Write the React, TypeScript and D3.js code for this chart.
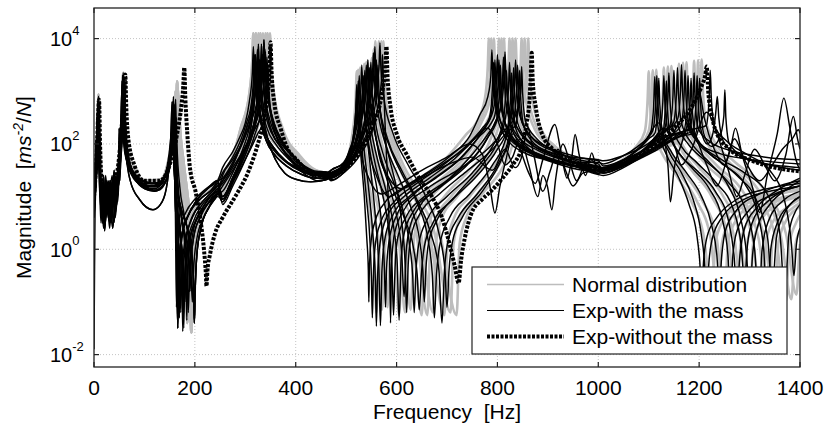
import React from 'react';
import * as d3 from 'd3';

// every point: [frequency in Hz, log10 of magnitude in m s^-2 / N]
type Pt = [number, number];

const xTicks = [0, 200, 400, 600, 800, 1000, 1200, 1400];
const yTickExps = [-2, 0, 2, 4];
const legendLabels = ['Normal distribution', 'Exp-with the mass', 'Exp-without the mass'];

// ---------- Exp-with the mass: 0-245 Hz pieces ----------
const blackLow1: Pt[] = [[0,1.0],[3,1.5],[6,2.1],[8,2.75],[10,1.9],[13,1.1],[16,0.7],[19,1.2],[23,0.6],[27,1.0],[31,0.5],[36,1.1],[41,0.8],[45,1.3],[49,1.6],[53,2.2],[55.5,2.7],[57,3.3],[58.5,2.6],[61,2.1],[66,1.75],[78,1.45],[95,1.25],[115,1.2],[135,1.3],[147,1.6],[153,2.0],[156,2.4],[157,2.7],[158,2.2],[161,1.0],[164,0.0],[166,-1.5],[168,-0.4],[173,0.2],[185,0.6],[205,0.95],[225,1.15],[245,1.3]];
const blackLow2: Pt[] = [[0,-1.9],[1,-0.5],[2,0.6],[4,1.3],[7,1.9],[9,2.5],[11,1.7],[14,0.9],[18,1.3],[21,0.4],[25,0.9],[30,1.3],[34,0.6],[38,1.0],[43,1.4],[47,0.9],[50,1.5],[54,2.3],[56.5,2.8],[58,3.35],[59.5,2.7],[62,2.1],[68,1.7],[80,1.4],[100,1.2],[120,1.15],[138,1.3],[148,1.65],[154,2.1],[157,2.3],[158,2.5],[159,2.0],[163,1.1],[168,0.2],[171,-0.6],[172,-1.2],[174,-0.5],[178,0.0],[190,0.5],[210,0.85],[230,1.05],[245,1.2]];
const blackLow3: Pt[] = [[0,0.8],[3,1.2],[6,1.7],[9,2.0],[10,2.3],[11,1.8],[14,1.0],[17,0.5],[20,0.9],[24,1.3],[28,0.7],[32,1.0],[37,0.4],[42,0.9],[46,1.2],[49,1.6],[50,2.3],[51,1.3],[54,2.0],[57,2.6],[59,3.1],[61,2.4],[64,1.8],[72,1.3],[90,0.95],[117,0.75],[135,0.9],[145,1.25],[150,1.7],[153,2.3],[155,2.8],[156.5,2.2],[159,1.5],[165,0.8],[172,0.2],[178,-0.4],[180,-1.0],[182,-0.4],[188,0.1],[200,0.5],[220,0.8],[245,1.05]];
const blackLow4: Pt[] = [[0,1.2],[3,1.6],[6,2.2],[8,2.6],[10,1.8],[12,1.2],[15,0.8],[19,1.4],[22,0.9],[26,1.2],[30,0.7],[34,1.2],[39,0.5],[44,1.0],[48,1.4],[52,1.9],[54.5,2.5],[56,3.2],[57.5,2.5],[60,2.0],[66,1.65],[80,1.35],[100,1.15],[120,1.1],[140,1.25],[150,1.6],[156,2.1],[159,2.4],[160,2.6],[161.5,2.1],[165,1.3],[172,0.7],[180,0.3],[186,0.0],[189,-0.5],[190,-0.8],[192,-0.3],[198,0.25],[210,0.6],[228,0.9],[245,1.1]];
const blackLow5: Pt[] = [[0,0.9],[3,1.4],[6,2.3],[9,2.9],[11,2.0],[13,1.3],[16,1.0],[20,0.6],[24,1.1],[29,0.8],[33,1.3],[37,0.9],[42,1.2],[47,1.1],[51,1.6],[55,2.2],[58,2.6],[60,3.0],[62,2.4],[66,1.9],[76,1.5],[95,1.3],[115,1.25],[135,1.3],[146,1.55],[152,1.9],[155,2.2],[156,2.4],[157.5,1.9],[162,1.3],[172,0.8],[185,0.4],[195,-0.2],[198,-0.9],[199,-1.4],[200.5,-0.8],[204,-0.1],[212,0.4],[228,0.8],[245,1.05]];
const blackLow6: Pt[] = [[0,1.1],[3,1.3],[6,1.6],[9,1.8],[11,2.0],[12,1.5],[15,1.0],[18,0.7],[22,1.2],[26,0.8],[30,1.1],[35,0.7],[40,1.3],[45,0.9],[49,1.4],[52,1.9],[55,2.5],[57,3.25],[58.5,2.6],[61,2.1],[67,1.7],[80,1.45],[100,1.3],[122,1.25],[140,1.35],[150,1.7],[157,2.2],[160,2.5],[162,2.85],[163.5,2.0],[166,1.2],[170,0.5],[174,-0.3],[176,-1.56],[178,-0.3],[183,0.2],[195,0.6],[215,0.9],[235,1.1],[245,1.2]];
const blackLow7: Pt[] = [[0,0.6],[2,1.0],[5,1.5],[8,1.9],[10,2.2],[12,1.4],[15,0.6],[18,1.0],[21,0.35],[24,0.8],[28,1.2],[32,0.6],[36,1.0],[40,1.5],[44,0.8],[48,1.2],[52,1.8],[56,2.6],[58.5,3.3],[60,2.7],[63,2.0],[70,1.6],[85,1.35],[105,1.2],[125,1.2],[142,1.4],[151,1.85],[156,2.3],[158,2.5],[159,2.75],[160.5,2.1],[164,1.0],[167,0.0],[169,-1.3],[171,-0.2],[176,0.35],[190,0.7],[210,0.95],[230,1.1],[245,1.25]];
const blackLow8: Pt[] = [[0,1.3],[3,1.8],[5,2.1],[7,2.45],[9,1.7],[12,0.9],[14,0.5],[17,1.1],[20,0.8],[23,1.4],[27,0.9],[31,0.4],[35,0.9],[39,1.2],[43,0.7],[47,1.5],[51,2.0],[53,2.4],[55,3.0],[56.5,2.4],[59,2.0],[64,1.7],[75,1.4],[95,1.2],[118,1.12],[140,1.25],[150,1.6],[157,2.15],[159.5,2.45],[161,2.65],[162.5,2.0],[166,1.3],[172,0.75],[178,0.3],[182,-0.3],[184,-1.35],[186,-0.3],[191,0.2],[202,0.55],[220,0.85],[245,1.1]];
const blackLow9: Pt[] = [[0,0.7],[3,1.1],[6,1.8],[9,2.6],[10.5,1.9],[13,1.2],[16,0.8],[19,0.4],[23,1.0],[26,1.3],[30,0.9],[34,0.5],[38,0.8],[42,1.3],[46,1.0],[49,1.3],[53,2.1],[56,2.6],[57.5,3.15],[59,2.5],[62,2.0],[68,1.65],[82,1.4],[100,1.25],[125,1.25],[142,1.45],[151,1.95],[156,2.35],[158,2.55],[159.5,1.9],[161.5,0.6],[163.5,-1.1],[165.5,-0.1],[170,0.35],[182,0.7],[200,0.95],[222,1.15],[245,1.3]];
const blackLow10: Pt[] = [[0,1.0],[3,1.35],[6,1.9],[8.5,2.35],[10,1.6],[13,0.8],[16,1.2],[20,0.5],[24,1.0],[28,0.6],[32,1.1],[36,1.4],[40,0.9],[44,1.1],[48,1.4],[52,1.9],[55,2.5],[56.5,3.1],[58,2.5],[61,2.0],[67,1.6],[78,1.4],[98,1.2],[120,1.18],[142,1.3],[153,1.7],[160,2.2],[162,2.35],[163,2.5],[164.5,2.0],[170,1.2],[178,0.7],[186,0.3],[192,-0.3],[195,-1.0],[198,-0.3],[204,0.2],[215,0.55],[232,0.85],[245,1.0]];
const blackLow11: Pt[] = [[0,1.15],[3,1.5],[6,2.1],[8,2.4],[9.5,2.8],[11,2.0],[14,1.2],[18,0.9],[22,0.45],[26,1.1],[30,1.3],[34,0.8],[38,1.2],[42,0.6],[46,1.0],[50,1.4],[54,1.9],[57.5,2.6],[59.5,3.25],[61,2.6],[64,2.05],[72,1.6],[90,1.3],[112,1.2],[135,1.28],[147,1.6],[153,2.1],[156,2.5],[157.5,2.9],[159,2.2],[163,1.4],[170,0.8],[178,0.35],[184,-0.2],[187,-1.2],[190,-0.2],[196,0.3],[208,0.65],[226,0.95],[245,1.15]];
const blackLow12: Pt[] = [[0,0.85],[3,1.2],[7,1.6],[9.5,2.0],[11,2.5],[12.5,1.8],[15,1.1],[18,0.6],[21,1.0],[25,0.7],[29,1.2],[33,0.9],[37,1.3],[41,0.7],[45,1.1],[49,1.4],[53,1.7],[57,2.2],[59,2.6],[60.5,3.05],[62,2.5],[65,2.0],[72,1.55],[88,1.3],[108,1.15],[128,1.12],[143,1.3],[150,1.7],[154,2.2],[156,2.6],[157.5,2.0],[161,1.2],[167,0.6],[173,0.0],[176,-0.6],[178,-1.5],[180,-0.5],[185,0.1],[196,0.5],[215,0.85],[235,1.05],[245,1.15]];

// ---------- Exp-with the mass: 255-460 Hz pieces (third resonance) ----------
const blackMode3a: Pt[] = [[255,1.55],[275,1.85],[290,2.15],[300,2.4],[308,2.8],[314,3.35],[316,3.85],[318,3.35],[324,2.8],[335,2.3],[350,2.0],[375,1.72],[405,1.55],[435,1.45],[460,1.42]];
const blackMode3b: Pt[] = [[255,1.3],[275,1.6],[292,2.0],[304,2.35],[312,2.65],[318,3.2],[320,3.7],[322,3.2],[328,2.65],[340,2.2],[355,1.95],[380,1.68],[410,1.5],[440,1.4],[460,1.4]];
const blackMode3c: Pt[] = [[255,1.1],[275,1.45],[295,1.9],[308,2.3],[316,2.75],[322,3.3],[324,3.8],[326,3.3],[332,2.75],[343,2.3],[360,2.0],[385,1.72],[412,1.52],[440,1.42],[460,1.45]];
const blackMode3d: Pt[] = [[255,0.9],[275,1.3],[295,1.75],[310,2.15],[320,2.55],[326,3.1],[328,3.6],[330,3.1],[336,2.5],[346,2.05],[360,1.7],[378,1.45],[400,1.33],[430,1.28],[460,1.32]];
const blackMode3e: Pt[] = [[255,1.4],[275,1.7],[295,2.05],[312,2.45],[324,2.85],[330,3.4],[332,3.9],[334,3.4],[340,2.85],[352,2.35],[368,2.05],[392,1.78],[418,1.58],[442,1.48],[460,1.47]];
const blackMode3f: Pt[] = [[255,1.0],[275,1.35],[298,1.85],[315,2.3],[329,2.9],[335,3.48],[337,3.98],[339,3.45],[345,2.9],[357,2.4],[372,2.08],[395,1.78],[420,1.55],[445,1.42],[460,1.4]];
const blackMode3g: Pt[] = [[255,0.85],[275,1.2],[300,1.7],[318,2.15],[332,2.7],[338,3.25],[340,3.75],[342,3.25],[348,2.7],[360,2.2],[375,1.9],[398,1.6],[422,1.4],[445,1.3],[460,1.33]];
const blackMode3h: Pt[] = [[255,1.2],[275,1.5],[300,1.9],[320,2.3],[335,2.6],[341,3.15],[343,3.65],[345,3.15],[351,2.6],[363,2.2],[380,1.92],[402,1.68],[428,1.5],[450,1.45],[460,1.47]];
const blackMode3i: Pt[] = [[255,1.45],[275,1.75],[292,2.1],[304,2.45],[310,2.65],[316,3.2],[318,3.7],[320,3.2],[326,2.65],[338,2.15],[355,1.9],[380,1.66],[410,1.48],[440,1.4],[460,1.38]];
const blackMode3j: Pt[] = [[255,1.0],[275,1.35],[295,1.8],[308,2.15],[314,2.5],[320,3.05],[322,3.55],[324,3.05],[330,2.5],[342,2.05],[358,1.8],[382,1.58],[412,1.42],[440,1.35],[460,1.36]];
const blackMode3k: Pt[] = [[255,1.35],[275,1.65],[296,2.05],[310,2.45],[318,2.85],[324,3.4],[326,3.9],[328,3.4],[334,2.85],[346,2.35],[362,2.05],[388,1.76],[415,1.56],[442,1.46],[460,1.46]];
const blackMode3l: Pt[] = [[255,0.95],[275,1.3],[298,1.75],[315,2.2],[326,2.65],[332,3.2],[334,3.7],[336,3.2],[342,2.65],[354,2.2],[370,1.95],[393,1.68],[420,1.5],[445,1.4],[460,1.4]];
const blackMode3m: Pt[] = [[255,1.25],[275,1.55],[300,1.95],[318,2.35],[331,2.75],[337,3.3],[339,3.8],[341,3.3],[347,2.75],[359,2.3],[375,2.0],[398,1.72],[424,1.52],[448,1.44],[460,1.44]];
const blackMode3n: Pt[] = [[255,0.95],[280,1.35],[305,1.8],[325,2.2],[337,2.45],[343,3.0],[345,3.5],[347,3.0],[353,2.45],[365,2.05],[382,1.78],[405,1.55],[430,1.4],[450,1.34],[460,1.35]];

// ---------- Exp-with the mass: 470-1000 Hz pieces ----------
const blackMid1: Pt[] = [[470,1.45],[495,1.6],[507,1.9],[513,2.08],[519,2.63],[521,3.13],[523,2.6],[529,1.8],[536,1.0],[541,0.2],[544,-0.4],[545,-1.0],[546,-0.4],[550,0.2],[558,0.55],[578,0.9],[610,1.15],[660,1.45],[710,1.8],[745,2.15],[765,2.55],[781,2.9],[787,3.3],[789,3.79],[791,3.3],[797,2.75],[812,2.3],[840,2.0],[890,1.75],[945,1.6],[1000,1.52]];
const blackMid2: Pt[] = [[470,1.4],[495,1.55],[508,1.85],[518,2.25],[524,2.8],[526,3.3],[528,2.8],[534,2.05],[544,1.2],[552,0.4],[558,-0.6],[560,-1.46],[562,-0.6],[567,0.1],[580,0.6],[615,1.0],[665,1.35],[715,1.72],[755,2.1],[775,2.3],[787,2.55],[793,3.1],[795,3.6],[797,3.1],[803,2.55],[820,2.15],[855,1.88],[905,1.68],[955,1.57],[1000,1.5]];
const blackMid3: Pt[] = [[470,1.5],[495,1.65],[510,1.95],[523,2.45],[529,3.0],[531,3.5],[533,3.0],[539,2.4],[550,1.7],[562,1.1],[571,0.4],[576,-0.4],[578,-1.1],[580,-0.4],[585,0.15],[598,0.6],[635,1.05],[685,1.4],[735,1.8],[770,2.25],[792,2.65],[798,3.2],[800,3.7],[802,3.2],[808,2.65],[825,2.2],[862,1.9],[912,1.7],[962,1.58],[1000,1.55]];
const blackMid4: Pt[] = [[470,1.35],[495,1.5],[512,1.8],[526,2.3],[535,2.9],[537,3.4],[539,2.9],[545,2.3],[557,1.65],[572,1.05],[584,0.4],[591,-0.35],[594,-1.25],[597,-0.35],[602,0.2],[618,0.6],[655,1.0],[705,1.35],[750,1.8],[782,2.2],[798,2.45],[804,3.0],[806,3.5],[808,3.0],[814,2.45],[832,2.05],[870,1.8],[920,1.62],[970,1.5],[1000,1.48]];
const blackMid5: Pt[] = [[470,1.45],[495,1.6],[515,1.9],[532,2.55],[541,3.1],[543,3.6],[545,3.1],[551,2.55],[565,1.85],[585,1.2],[600,0.65],[610,-0.05],[615,-0.9],[619,-0.05],[626,0.4],[645,0.8],[690,1.2],[740,1.6],[780,2.1],[804,2.6],[810,3.15],[812,3.65],[814,3.15],[820,2.6],[840,2.15],[880,1.88],[930,1.7],[975,1.6],[1000,1.58]];
const blackMid6: Pt[] = [[470,1.4],[495,1.55],[518,1.85],[538,2.5],[547,3.05],[549,3.55],[551,3.05],[557,2.5],[572,1.85],[595,1.25],[615,0.65],[627,0.0],[632,-0.5],[635,-1.2],[638,-0.5],[644,0.1],[660,0.55],[700,1.0],[750,1.45],[790,1.95],[810,2.35],[816,2.9],[818,3.4],[820,2.9],[826,2.35],[848,2.0],[890,1.78],[940,1.62],[1000,1.5]];
const blackMid7: Pt[] = [[470,1.5],[495,1.62],[520,1.95],[543,2.65],[552,3.23],[554,3.73],[556,3.23],[562,2.68],[578,2.0],[603,1.4],[628,0.8],[646,0.15],[652,-0.4],[655,-1.0],[658,-0.4],[664,0.15],[680,0.55],[720,1.05],[770,1.6],[803,2.1],[816,2.5],[822,3.05],[824,3.55],[826,3.05],[832,2.5],[854,2.1],[895,1.85],[945,1.68],[1000,1.56]];
const blackMid8: Pt[] = [[470,1.35],[495,1.5],[522,1.85],[549,2.5],[558,3.1],[560,3.6],[562,3.1],[568,2.55],[586,1.95],[612,1.4],[642,0.85],[663,0.15],[671,-0.5],[675,-1.3],[679,-0.5],[686,0.1],[705,0.6],[745,1.05],[790,1.6],[815,2.05],[824,2.4],[830,2.95],[832,3.45],[834,2.95],[840,2.4],[862,2.05],[905,1.8],[955,1.64],[1000,1.55]];
const blackMid9: Pt[] = [[470,1.45],[495,1.58],[525,1.95],[553,2.75],[565,3.42],[567,3.92],[569,3.42],[575,2.87],[593,2.2],[623,1.6],[658,1.0],[684,0.3],[696,-0.4],[700,-1.1],[704,-0.4],[711,0.15],[730,0.6],[770,1.1],[808,1.7],[826,2.15],[832,2.45],[838,3.0],[840,3.5],[842,3.0],[848,2.45],[870,2.1],[915,1.85],[960,1.7],[1000,1.62]];
const blackMid10: Pt[] = [[470,1.3],[495,1.45],[528,1.8],[557,2.45],[570,3.2],[572,3.7],[574,3.15],[578,2.2],[583,1.1],[586,0.1],[588,-1.4],[590,-0.3],[596,0.3],[615,0.75],[660,1.15],[720,1.5],[780,1.9],[818,2.3],[834,2.5],[846,2.97],[848,3.47],[850,2.97],[856,2.42],[878,2.1],[920,1.85],[965,1.65],[1000,1.56]];
const blackMid11: Pt[] = [[470,1.38],[495,1.52],[508,1.8],[516,2.15],[522,2.7],[524,3.2],[526,2.65],[532,1.85],[540,1.0],[547,0.2],[550,-0.5],[552,-1.3],[554,-0.5],[558,0.1],[568,0.5],[595,0.9],[640,1.25],[695,1.62],[740,1.98],[770,2.3],[784,2.5],[790,3.05],[792,3.55],[794,3.05],[800,2.5],[818,2.1],[850,1.85],[900,1.7],[955,1.65],[1000,1.65]];
const blackMid12: Pt[] = [[470,1.5],[495,1.63],[512,1.9],[526,2.25],[532,2.8],[534,3.3],[536,2.8],[542,2.1],[551,1.3],[559,0.5],[565,-0.4],[568,-1.45],[571,-0.4],[576,0.15],[590,0.6],[625,1.0],[675,1.35],[725,1.72],[765,2.15],[788,2.4],[795,2.55],[801,3.1],[803,3.6],[805,3.1],[811,2.55],[830,2.12],[865,1.85],[915,1.67],[965,1.55],[1000,1.45]];
const blackMid13: Pt[] = [[470,1.42],[495,1.55],[514,1.85],[530,2.4],[538,3.0],[540,3.5],[542,3.0],[548,2.4],[561,1.75],[578,1.15],[592,0.55],[601,-0.2],[605,-1.35],[609,-0.2],[615,0.3],[632,0.7],[675,1.1],[725,1.5],[770,1.95],[797,2.45],[807,2.7],[813,3.25],[815,3.75],[817,3.25],[823,2.7],[843,2.25],[880,1.95],[930,1.78],[975,1.72],[1000,1.7]];
const blackMid14: Pt[] = [[470,1.32],[495,1.46],[517,1.78],[535,2.35],[544,2.95],[546,3.45],[548,2.95],[554,2.4],[569,1.75],[592,1.15],[615,0.6],[634,0.0],[641,-0.5],[645,-1.15],[649,-0.5],[655,0.05],[672,0.5],[712,0.95],[760,1.4],[800,1.9],[820,2.3],[826,2.85],[828,3.35],[830,2.85],[836,2.3],[858,1.95],[900,1.72],[950,1.58],[1000,1.42]];
const blackMid15: Pt[] = [[470,1.45],[495,1.57],[523,1.92],[546,2.7],[555,3.35],[557,3.85],[559,3.35],[565,2.8],[582,2.1],[610,1.5],[640,0.95],[668,0.3],[684,-0.4],[690,-1.4],[695,-0.4],[702,0.15],[722,0.6],[760,1.05],[800,1.6],[822,2.1],[828,2.55],[834,3.1],[836,3.6],[838,3.1],[844,2.55],[866,2.15],[910,1.9],[960,1.75],[1000,1.68]];
const blackMid16: Pt[] = [[470,1.36],[495,1.5],[525,1.85],[550,2.4],[561,3.0],[563,3.5],[565,3.0],[571,2.4],[585,1.75],[600,1.15],[611,0.45],[617,-0.3],[620,-1.2],[623,-0.3],[629,0.25],[645,0.65],[685,1.05],[735,1.45],[790,1.9],[822,2.25],[836,2.35],[842,2.9],[844,3.4],[846,2.9],[852,2.35],[874,2.0],[918,1.78],[962,1.6],[1000,1.44]];

// ---------- Exp-with the mass: 1010-1400 Hz pieces ----------
const blackHigh1: Pt[] = [[1010,1.5],[1045,1.65],[1072,1.85],[1092,2.05],[1104,2.23],[1110,2.78],[1112,3.28],[1114,2.78],[1120,2.23],[1135,1.8],[1160,1.35],[1180,0.85],[1195,0.3],[1201,-0.2],[1205,-0.8],[1209,-0.2],[1216,0.25],[1235,0.6],[1275,0.95],[1335,1.15],[1400,1.25]];
const blackHigh2: Pt[] = [[1010,1.55],[1050,1.7],[1080,1.9],[1100,2.1],[1112,2.2],[1118,2.75],[1120,3.25],[1122,2.75],[1128,2.2],[1145,1.85],[1175,1.45],[1205,1.0],[1225,0.45],[1235,-0.1],[1240,-0.7],[1245,-0.1],[1252,0.35],[1275,0.75],[1320,1.05],[1400,1.3]];
const blackHigh3: Pt[] = [[1010,1.45],[1050,1.6],[1085,1.85],[1110,2.1],[1122,2.25],[1128,2.8],[1130,3.3],[1132,2.8],[1138,2.25],[1155,1.9],[1185,1.55],[1220,1.15],[1245,0.6],[1257,-0.1],[1262,-0.9],[1267,-0.1],[1275,0.35],[1300,0.75],[1350,1.05],[1400,1.2]];
const blackHigh4: Pt[] = [[1010,1.5],[1050,1.62],[1090,1.9],[1118,2.15],[1132,2.3],[1138,2.85],[1140,3.35],[1142,2.85],[1148,2.3],[1165,1.95],[1195,1.65],[1235,1.25],[1268,0.75],[1283,0.1],[1290,-0.6],[1296,0.1],[1305,0.5],[1335,0.9],[1400,1.2]];
const blackHigh5: Pt[] = [[1010,1.52],[1050,1.65],[1095,1.92],[1125,2.2],[1142,2.35],[1148,2.9],[1150,3.4],[1152,2.9],[1158,2.35],[1178,2.0],[1210,1.7],[1255,1.3],[1292,0.75],[1310,0.0],[1318,-1.0],[1325,0.0],[1338,0.55],[1370,0.95],[1400,1.1]];
const blackHigh6: Pt[] = [[1010,1.55],[1050,1.68],[1100,1.95],[1135,2.25],[1157,2.46],[1163,3.01],[1165,3.51],[1167,3.01],[1173,2.46],[1195,2.05],[1230,1.75],[1275,1.4],[1315,0.9],[1336,0.2],[1345,-0.8],[1353,0.2],[1365,0.6],[1385,0.9],[1400,1.0]];
const blackHigh7: Pt[] = [[1010,1.48],[1050,1.6],[1105,1.9],[1145,2.15],[1170,2.25],[1176,2.8],[1178,3.3],[1180,2.8],[1186,2.25],[1208,1.95],[1245,1.7],[1290,1.45],[1335,1.05],[1360,0.3],[1370,-0.9],[1378,0.3],[1390,0.7],[1400,0.85]];
const blackHigh8: Pt[] = [[1010,1.5],[1050,1.62],[1110,1.92],[1155,2.2],[1182,2.3],[1188,2.85],[1190,3.35],[1192,2.85],[1198,2.3],[1220,2.05],[1260,1.88],[1310,1.78],[1360,1.72],[1400,1.7]];
const blackHigh9: Pt[] = [[1010,1.45],[1050,1.58],[1115,1.88],[1165,2.15],[1193,2.2],[1199,2.75],[1201,3.25],[1203,2.75],[1209,2.2],[1225,1.95],[1240,2.1],[1249,2.53],[1251,3.03],[1253,2.5],[1260,2.0],[1290,1.75],[1340,1.6],[1400,1.5]];
const blackHigh10: Pt[] = [[1010,1.52],[1050,1.65],[1120,1.95],[1175,2.25],[1214,2.35],[1220,2.9],[1222,3.4],[1224,2.9],[1230,2.35],[1255,2.05],[1295,1.8],[1340,1.5],[1370,0.9],[1383,0.1],[1388,-0.5],[1393,0.1],[1400,0.4]];
const blackHigh11: Pt[] = [[1010,1.62],[1045,1.75],[1078,1.95],[1098,2.12],[1108,2.25],[1114,2.8],[1116,3.3],[1118,2.8],[1124,2.25],[1140,1.85],[1165,1.45],[1188,0.95],[1204,0.3],[1211,-0.3],[1215,-1.1],[1219,-0.3],[1226,0.2],[1245,0.6],[1290,0.95],[1350,1.12],[1400,1.2]];
const blackHigh12: Pt[] = [[1010,1.45],[1050,1.58],[1088,1.82],[1115,2.05],[1127,2.15],[1133,2.7],[1135,3.2],[1137,2.7],[1143,2.15],[1162,1.8],[1195,1.5],[1232,1.1],[1258,0.55],[1269,-0.1],[1275,-0.8],[1281,-0.1],[1290,0.4],[1315,0.8],[1360,1.15],[1400,1.35]];
const blackHigh13: Pt[] = [[1010,1.68],[1050,1.78],[1098,2.0],[1130,2.25],[1149,2.4],[1155,2.95],[1157,3.45],[1159,2.95],[1165,2.4],[1186,2.0],[1220,1.65],[1258,1.2],[1282,0.6],[1294,-0.1],[1300,-0.9],[1306,-0.1],[1315,0.4],[1340,0.85],[1375,1.15],[1400,1.3]];
const blackHigh14: Pt[] = [[1010,1.4],[1050,1.55],[1105,1.88],[1142,2.15],[1164,2.35],[1170,2.9],[1172,3.4],[1174,2.9],[1180,2.35],[1202,2.0],[1240,1.82],[1290,1.72],[1345,1.66],[1400,1.62]];
const blackHigh15: Pt[] = [[1010,1.58],[1050,1.7],[1110,1.98],[1150,2.2],[1176,2.2],[1182,2.75],[1184,3.25],[1186,2.75],[1192,2.2],[1212,1.9],[1250,1.6],[1290,1.25],[1315,0.7],[1328,0.0],[1335,-1.2],[1342,0.0],[1355,0.5],[1380,0.85],[1400,1.0]];
const blackHigh16: Pt[] = [[1010,1.5],[1050,1.62],[1115,1.9],[1160,2.15],[1188,2.25],[1194,2.8],[1196,3.3],[1198,2.8],[1204,2.25],[1216,2.0],[1226,2.15],[1233,2.6],[1236,2.9],[1239,2.5],[1248,2.05],[1275,1.8],[1320,1.65],[1365,1.58],[1400,1.55]];

// ---------- Exp-with the mass: irregular measurements ----------
const wiggleMid1: Pt[] = [[470,1.42],[495,1.58],[510,1.9],[519,2.6],[521,2.9],[523,2.5],[530,1.8],[545,1.35],[570,1.05],[600,1.2],[650,1.5],[700,1.75],[745,2.0],[770,1.8],[785,1.2],[795,0.69],[805,1.2],[818,1.75],[831,2.2],[845,1.9],[862,1.45],[875,1.25],[890,1.7],[914,2.37],[925,1.9],[938,1.35],[947,1.7],[954,2.18],[962,1.8],[975,1.4],[987,1.83],[995,1.6],[1000,1.55]];
const wiggleHigh1: Pt[] = [[1010,1.5],[1050,1.7],[1090,2.0],[1120,2.4],[1138,1.6],[1143,0.9],[1150,1.5],[1165,2.0],[1185,2.6],[1200,3.0],[1210,2.5],[1230,1.9],[1250,1.6],[1262,1.9],[1272,2.3],[1285,1.8],[1305,1.2],[1320,0.7],[1335,1.4],[1355,2.2],[1368,2.87],[1380,2.3],[1392,1.7],[1400,1.5]];
const wiggleMid2: Pt[] = [[470,1.4],[495,1.55],[515,1.95],[530,2.7],[533,3.0],[536,2.6],[545,1.9],[560,1.4],[585,1.0],[620,1.2],[680,1.55],[740,1.95],[780,2.3],[800,2.0],[815,1.6],[830,1.75],[845,2.1],[862,1.6],[880,1.0],[890,1.4],[899,1.2],[908,0.75],[915,1.3],[930,2.0],[942,1.7],[957,1.3],[970,1.55],[985,1.7],[1000,1.55]];
const wiggleHigh2: Pt[] = [[1010,1.5],[1060,1.7],[1100,1.95],[1130,2.3],[1150,2.0],[1165,1.6],[1185,1.9],[1215,2.6],[1235,2.2],[1258,1.5],[1275,1.0],[1290,1.4],[1310,1.9],[1330,1.6],[1350,1.3],[1372,1.8],[1387,2.52],[1395,2.1],[1400,1.9]];
const wiggleMid3: Pt[] = [[470,1.45],[495,1.6],[520,1.95],[545,2.5],[550,2.75],[555,2.4],[565,1.8],[585,1.35],[610,1.15],[650,1.35],[700,1.6],[750,1.75],[790,1.5],[815,1.9],[835,1.55],[848,1.75],[860,2.3],[872,1.8],[890,1.1],[905,1.5],[920,1.9],[935,1.5],[950,1.2],[970,1.45],[1000,1.5]];
const wiggleHigh3: Pt[] = [[1010,1.5],[1060,1.65],[1110,1.9],[1145,2.15],[1170,2.5],[1190,2.2],[1215,1.6],[1235,1.2],[1255,1.7],[1270,2.1],[1290,1.7],[1320,1.3],[1345,1.6],[1365,1.9],[1385,2.1],[1397,2.27],[1400,2.2]];

// ---------- Normal distribution: pieces ----------
const grayLow1: Pt[] = [[0,1.0],[4,1.5],[7,2.3],[9,2.94],[11,2.2],[15,1.35],[25,0.9],[40,1.1],[49,1.55],[54,2.2],[56,2.85],[58,3.35],[60,2.8],[65,2.05],[78,1.6],[100,1.3],[130,1.3],[148,1.7],[156,2.3],[160,2.5],[162,3.0],[164,2.4],[168,1.5],[173,0.6],[176,-0.2],[178,-1.2],[180,-0.2],[187,0.4],[205,0.85],[230,1.15],[245,1.3]];
const grayLow2: Pt[] = [[0,1.0],[4,1.45],[7,2.1],[9,2.7],[11,2.1],[15,1.3],[25,0.95],[40,1.15],[49,1.6],[54,2.25],[56,2.8],[58,3.3],[60,2.75],[65,2.0],[78,1.55],[100,1.28],[130,1.3],[150,1.75],[159,2.35],[163,2.69],[165,3.19],[167,2.6],[172,1.6],[178,0.6],[182,-0.2],[185,-1.4],[188,-0.2],[195,0.35],[212,0.8],[235,1.1],[245,1.2]];
const grayLow3: Pt[] = [[0,0.95],[4,1.4],[7,2.0],[9,2.6],[11,2.0],[15,1.25],[25,0.9],[40,1.1],[49,1.55],[54,2.2],[56,2.75],[58,3.25],[60,2.7],[65,2.0],[78,1.55],[100,1.25],[130,1.28],[150,1.72],[160,2.3],[164,2.55],[166,3.05],[168,2.5],[174,1.7],[182,0.9],[189,0.1],[193,-1.58],[197,0.0],[205,0.45],[222,0.85],[245,1.1]];
const grayLow4: Pt[] = [[0,1.05],[4,1.5],[7,2.2],[9,2.8],[11,2.15],[15,1.3],[25,0.92],[40,1.12],[49,1.58],[54,2.2],[56,2.8],[58,3.3],[60,2.75],[65,2.05],[78,1.58],[100,1.3],[130,1.32],[152,1.75],[162,2.3],[166,2.4],[168,2.9],[170,2.4],[177,1.7],[187,0.9],[194,0.2],[198,-1.3],[202,0.1],[210,0.5],[228,0.85],[245,1.05]];

const grayMode3a: Pt[] = [[255,1.45],[275,1.75],[291,2.3],[308,2.95],[314,3.6],[316,4.1],[318,3.6],[324,2.95],[341,2.3],[376,1.85],[420,1.55],[460,1.45]];
const grayMode3b: Pt[] = [[255,1.35],[275,1.65],[296,2.3],[313,2.95],[319,3.6],[321,4.1],[323,3.6],[329,2.95],[346,2.3],[381,1.85],[425,1.53],[460,1.45]];
const grayMode3c: Pt[] = [[255,1.25],[275,1.55],[301,2.3],[318,2.95],[324,3.6],[326,4.1],[328,3.6],[334,2.95],[351,2.3],[386,1.83],[428,1.52],[460,1.45]];
const grayMode3d: Pt[] = [[255,1.2],[280,1.6],[305,2.3],[322,2.95],[328,3.6],[330,4.1],[332,3.6],[338,2.95],[355,2.3],[390,1.82],[430,1.5],[460,1.45]];
const grayMode3e: Pt[] = [[255,1.15],[280,1.55],[310,2.3],[327,2.95],[333,3.6],[335,4.1],[337,3.6],[343,2.95],[360,2.3],[395,1.8],[432,1.5],[460,1.45]];
const grayMode3f: Pt[] = [[255,1.1],[285,1.6],[315,2.3],[332,2.95],[338,3.6],[340,4.1],[342,3.6],[348,2.95],[365,2.3],[400,1.8],[435,1.5],[460,1.45]];
const grayMode3g: Pt[] = [[255,1.05],[285,1.55],[319,2.3],[336,2.95],[342,3.6],[344,4.1],[346,3.6],[352,2.95],[369,2.3],[404,1.78],[438,1.5],[460,1.45]];
const grayMode3h: Pt[] = [[255,1.0],[290,1.55],[324,2.3],[341,2.95],[347,3.6],[349,4.1],[351,3.6],[357,2.95],[374,2.3],[408,1.78],[440,1.5],[460,1.45]];

const grayMid1: Pt[] = [[470,1.45],[496,1.6],[513,2.23],[519,2.88],[521,3.38],[523,2.8],[529,2.0],[540,1.2],[550,0.5],[556,-0.2],[560,-1.2],[564,-0.2],[572,0.4],[595,0.9],[640,1.3],[700,1.75],[740,2.2],[758,2.4],[775,2.85],[781,3.5],[783,4.0],[785,3.5],[791,2.85],[808,2.3],[840,1.95],[890,1.72],[945,1.6],[1000,1.52]];
const grayMid2: Pt[] = [[470,1.45],[500,1.63],[520,2.3],[526,2.95],[528,3.45],[530,2.85],[536,2.1],[550,1.35],[565,0.7],[576,0.0],[582,-1.1],[587,0.0],[596,0.5],[620,0.9],[665,1.3],[720,1.75],[768,2.4],[785,2.85],[791,3.5],[793,4.0],[795,3.5],[801,2.85],[818,2.3],[850,1.95],[900,1.72],[950,1.6],[1000,1.52]];
const grayMid3: Pt[] = [[470,1.45],[500,1.62],[511,1.72],[528,2.37],[534,3.02],[536,3.52],[538,2.9],[544,2.2],[560,1.45],[580,0.8],[596,0.1],[605,-1.25],[611,0.1],[620,0.55],[645,0.95],[690,1.35],[740,1.8],[778,2.4],[795,2.85],[801,3.5],[803,4.0],[805,3.5],[811,2.85],[828,2.3],[860,1.95],[910,1.72],[960,1.6],[1000,1.52]];
const grayMid4: Pt[] = [[470,1.45],[500,1.62],[518,1.78],[535,2.43],[541,3.08],[543,3.58],[545,2.95],[551,2.25],[568,1.5],[592,0.85],[615,0.15],[628,-1.15],[634,0.15],[644,0.6],[670,1.0],[720,1.45],[765,1.9],[788,2.4],[805,2.85],[811,3.5],[813,4.0],[815,3.5],[821,2.85],[838,2.3],[870,1.95],[920,1.72],[965,1.6],[1000,1.52]];
const grayMid5: Pt[] = [[470,1.45],[500,1.62],[526,1.83],[543,2.48],[549,3.13],[551,3.63],[553,3.0],[559,2.3],[577,1.55],[605,0.9],[632,0.2],[650,-1.25],[656,0.1],[666,0.55],[695,1.0],[745,1.5],[780,1.95],[799,2.4],[816,2.85],[822,3.5],[824,4.0],[826,3.5],[832,2.85],[849,2.3],[880,1.95],[930,1.72],[970,1.6],[1000,1.52]];
const grayMid6: Pt[] = [[470,1.45],[500,1.62],[533,2.15],[550,2.8],[556,3.45],[558,3.95],[560,3.3],[566,2.6],[585,1.8],[615,1.1],[648,0.3],[672,-1.2],[678,0.1],[688,0.55],[720,1.0],[770,1.55],[800,2.0],[811,2.4],[828,2.85],[834,3.5],[836,4.0],[838,3.5],[844,2.85],[861,2.3],[892,1.95],[940,1.72],[975,1.6],[1000,1.52]];
const grayMid7: Pt[] = [[470,1.45],[500,1.62],[540,2.15],[557,2.8],[563,3.45],[565,3.95],[567,3.3],[573,2.6],[593,1.85],[625,1.15],[665,0.3],[695,-1.25],[701,0.1],[712,0.55],[745,1.0],[790,1.55],[815,2.0],[823,2.4],[840,2.85],[846,3.5],[848,4.0],[850,3.5],[856,2.85],[873,2.3],[905,1.95],[950,1.72],[1000,1.55]];
const grayMid8: Pt[] = [[470,1.45],[500,1.62],[549,2.15],[566,2.8],[572,3.45],[574,3.95],[576,3.3],[582,2.6],[603,1.85],[640,1.15],[685,0.35],[719,-1.25],[725,0.1],[736,0.55],[770,1.05],[810,1.55],[830,2.0],[836,2.4],[853,2.85],[859,3.5],[861,4.0],[863,3.5],[869,2.85],[886,2.3],[915,1.95],[960,1.72],[1000,1.55]];
const grayMid9: Pt[] = [[470,1.45],[500,1.62],[516,2.26],[522,2.91],[524,3.41],[526,2.8],[532,2.05],[544,1.3],[557,0.6],[566,-0.1],[571,-1.15],[576,-0.1],[584,0.45],[608,0.9],[652,1.3],[710,1.75],[763,2.4],[780,2.85],[786,3.5],[788,4.0],[790,3.5],[796,2.85],[813,2.3],[845,1.95],[895,1.72],[948,1.6],[1000,1.5]];
const grayMid10: Pt[] = [[470,1.45],[500,1.62],[515,1.75],[532,2.4],[538,3.05],[540,3.55],[542,2.92],[548,2.22],[564,1.48],[586,0.82],[605,0.12],[617,-1.2],[623,0.12],[632,0.58],[658,0.98],[705,1.4],[752,1.85],[783,2.4],[800,2.85],[806,3.5],[808,4.0],[810,3.5],[816,2.85],[833,2.3],[865,1.95],[915,1.72],[962,1.6],[1000,1.55]];
const grayMid11: Pt[] = [[470,1.45],[500,1.62],[530,2.0],[547,2.65],[553,3.3],[555,3.8],[557,3.15],[563,2.45],[581,1.7],[610,1.0],[640,0.25],[661,-1.25],[667,0.1],[677,0.55],[708,1.0],[758,1.52],[790,1.98],[805,2.4],[822,2.85],[828,3.5],[830,4.0],[832,3.5],[838,2.85],[855,2.3],[886,1.95],[935,1.72],[972,1.6],[1000,1.5]];
const grayMid12: Pt[] = [[470,1.45],[500,1.62],[545,2.15],[562,2.8],[568,3.45],[570,3.95],[572,3.3],[578,2.6],[598,1.85],[632,1.15],[675,0.32],[707,-1.2],[713,0.1],[724,0.55],[758,1.02],[800,1.55],[822,2.0],[829,2.4],[846,2.85],[852,3.5],[854,4.0],[856,3.5],[862,2.85],[879,2.3],[910,1.95],[955,1.72],[1000,1.58]];

const grayHigh1: Pt[] = [[1010,1.52],[1040,1.65],[1075,1.95],[1092,2.23],[1098,2.88],[1100,3.38],[1102,2.88],[1108,2.23],[1125,1.85],[1155,1.4],[1185,0.9],[1210,0.2],[1225,-1.0],[1232,0.1],[1245,0.5],[1280,0.85],[1340,1.05],[1400,1.15]];
const grayHigh2: Pt[] = [[1010,1.52],[1045,1.67],[1090,1.98],[1107,2.26],[1113,2.91],[1115,3.41],[1117,2.91],[1123,2.26],[1140,1.88],[1170,1.45],[1205,0.95],[1235,0.2],[1250,-1.1],[1257,0.1],[1270,0.5],[1305,0.85],[1360,1.05],[1400,1.12]];
const grayHigh3: Pt[] = [[1010,1.52],[1050,1.68],[1105,2.02],[1122,2.3],[1128,2.95],[1130,3.45],[1132,2.95],[1138,2.3],[1155,1.9],[1185,1.5],[1225,1.0],[1258,0.2],[1275,-1.15],[1282,0.1],[1295,0.5],[1330,0.85],[1400,1.05]];
const grayHigh4: Pt[] = [[1010,1.52],[1055,1.7],[1120,2.05],[1137,2.33],[1143,2.98],[1145,3.48],[1147,2.98],[1153,2.33],[1170,1.93],[1200,1.55],[1245,1.05],[1282,0.2],[1300,-1.2],[1307,0.1],[1320,0.5],[1355,0.85],[1400,1.0]];
const grayHigh5: Pt[] = [[1010,1.52],[1060,1.72],[1135,2.08],[1152,2.37],[1158,3.02],[1160,3.52],[1162,3.02],[1168,2.37],[1185,1.97],[1215,1.6],[1265,1.1],[1306,0.2],[1325,-1.2],[1332,0.1],[1345,0.5],[1375,0.8],[1400,0.95]];
const grayHigh6: Pt[] = [[1010,1.52],[1065,1.74],[1150,2.1],[1167,2.4],[1173,3.05],[1175,3.55],[1177,3.05],[1183,2.4],[1200,2.0],[1232,1.62],[1285,1.12],[1330,0.2],[1350,-1.15],[1357,0.1],[1370,0.5],[1400,0.8]];
const grayHigh7: Pt[] = [[1010,1.52],[1070,1.76],[1165,2.13],[1182,2.43],[1188,3.08],[1190,3.58],[1192,3.08],[1198,2.43],[1215,2.03],[1250,1.65],[1305,1.15],[1352,0.2],[1372,-1.0],[1379,0.1],[1392,0.5],[1400,0.65]];
const grayHigh8: Pt[] = [[1010,1.52],[1075,1.78],[1180,2.15],[1197,2.45],[1203,3.1],[1205,3.6],[1207,3.1],[1213,2.45],[1230,2.05],[1268,1.68],[1325,1.18],[1372,0.3],[1393,-0.86],[1399,0.0],[1400,0.1]];
const grayHigh9: Pt[] = [[1010,1.52],[1042,1.66],[1082,1.96],[1100,2.25],[1106,2.9],[1108,3.4],[1110,2.9],[1116,2.25],[1133,1.87],[1162,1.42],[1195,0.92],[1223,0.2],[1238,-1.05],[1245,0.1],[1258,0.5],[1292,0.85],[1350,1.05],[1400,1.13]];
const grayHigh10: Pt[] = [[1010,1.52],[1052,1.69],[1112,2.03],[1130,2.32],[1136,2.97],[1138,3.47],[1140,2.97],[1146,2.32],[1163,1.92],[1192,1.52],[1235,1.03],[1270,0.2],[1288,-1.2],[1295,0.1],[1308,0.5],[1342,0.85],[1400,1.02]];
const grayHigh11: Pt[] = [[1010,1.52],[1062,1.73],[1142,2.09],[1160,2.38],[1166,3.04],[1168,3.54],[1170,3.04],[1176,2.38],[1193,1.98],[1224,1.61],[1275,1.11],[1318,0.2],[1338,-1.2],[1345,0.1],[1358,0.5],[1385,0.78],[1400,0.88]];
const grayHigh12: Pt[] = [[1010,1.52],[1072,1.77],[1172,2.14],[1190,2.44],[1196,3.09],[1198,3.59],[1200,3.09],[1206,2.44],[1223,2.04],[1259,1.66],[1315,1.16],[1362,0.25],[1383,-0.95],[1390,0.05],[1400,0.35]];

// ---------- Exp-without the mass ----------
const withoutMass: Pt[] = [[0,1.0],[3,1.4],[6,2.0],[8,2.5],[10,2.84],[12,2.0],[15,1.3],[22,0.9],[30,1.0],[40,1.2],[48,1.6],[54,2.2],[58,2.7],[60,2.95],[62,3.32],[64,2.7],[68,2.1],[80,1.6],[100,1.3],[130,1.3],[150,1.6],[165,2.2],[173,2.7],[177,3.1],[179,3.45],[181,2.9],[185,2.2],[190,1.57],[202,1.07],[212,0.5],[218,0.0],[222,-0.5],[223,-0.7],[225,-0.4],[230,-0.1],[240,0.3],[255,0.6],[280,1.0],[305,1.45],[325,2.0],[338,2.5],[345,3.0],[348,3.4],[350,3.93],[352,3.4],[358,2.75],[370,2.3],[382,1.95],[402,1.7],[430,1.45],[460,1.38],[500,1.55],[530,1.9],[555,2.4],[570,2.9],[576,3.3],[578,3.55],[580,3.85],[582,3.3],[588,2.7],[600,2.2],[620,1.8],[645,1.35],[670,1.0],[690,0.6],[705,0.1],[715,-0.3],[723,-0.64],[728,-0.2],[735,0.2],[748,0.67],[770,0.95],[787,1.1],[810,1.35],[830,1.6],[847,1.9],[858,2.4],[864,2.9],[866,3.3],[868,3.73],[870,3.2],[876,2.7],[888,2.2],[910,1.9],[950,1.65],[1000,1.5],[1050,1.6],[1100,1.9],[1150,2.3],[1185,2.7],[1205,3.1],[1212,3.3],[1215,3.47],[1218,3.0],[1225,2.55],[1232,2.27],[1260,1.9],[1300,1.7],[1350,1.55],[1400,1.48]];

// ---------- assembling the measured / simulated curves ----------
const blackLows = [blackLow1, blackLow2, blackLow3, blackLow4, blackLow5, blackLow6, blackLow7, blackLow8, blackLow9, blackLow10, blackLow11, blackLow12];
const blackMode3s = [blackMode3a, blackMode3b, blackMode3c, blackMode3d, blackMode3e, blackMode3f, blackMode3g, blackMode3h, blackMode3i, blackMode3j, blackMode3k, blackMode3l, blackMode3m, blackMode3n];
const blackMids = [blackMid1, blackMid2, blackMid3, blackMid4, blackMid5, blackMid6, blackMid7, blackMid8, blackMid9, blackMid10, blackMid11, blackMid12, blackMid13, blackMid14, blackMid15, blackMid16];
const blackHighs = [blackHigh1, blackHigh2, blackHigh3, blackHigh4, blackHigh5, blackHigh6, blackHigh7, blackHigh8, blackHigh9, blackHigh10, blackHigh11, blackHigh12, blackHigh13, blackHigh14, blackHigh15, blackHigh16];
// which piece each measured curve uses: [low, mode3, mid, high]
const blackCombos = [[0,0,0,2],[1,1,1,6],[2,2,2,0],[3,3,3,8],[4,4,4,4],[5,5,5,9],[6,8,6,1],[7,9,7,5],[8,10,8,7],[9,11,9,3],[10,12,10,10],[11,13,11,11],[0,6,12,12],[2,7,13,13],[4,9,14,14],[6,11,15,15]];

const grayLows = [grayLow1, grayLow2, grayLow3, grayLow4];
const grayMode3s = [grayMode3a, grayMode3b, grayMode3c, grayMode3d, grayMode3e, grayMode3f, grayMode3g, grayMode3h];
const grayMids = [grayMid1, grayMid2, grayMid3, grayMid4, grayMid5, grayMid6, grayMid7, grayMid8, grayMid9, grayMid10, grayMid11, grayMid12];
const grayHighs = [grayHigh1, grayHigh2, grayHigh3, grayHigh4, grayHigh5, grayHigh6, grayHigh7, grayHigh8, grayHigh9, grayHigh10, grayHigh11, grayHigh12];

const grayCurves: Pt[][] = grayMids.map((m, i) => [...grayLows[i % 4], ...grayMode3s[(i * 3) % 8], ...m, ...grayHighs[i]]);
const blackCurves: Pt[][] = [
  ...blackCombos.map(([a, b, c, d]) => [...blackLows[a], ...blackMode3s[b], ...blackMids[c], ...blackHighs[d]]),
  [...blackLow4, ...blackMode3b, ...wiggleMid1, ...wiggleHigh1],
  [...blackLow5, ...blackMode3d, ...wiggleMid2, ...wiggleHigh2],
  [...blackLow1, ...blackMode3f, ...wiggleMid3, ...wiggleHigh3],
];

const W = 826, H = 430;
const L0 = 94, R0 = 800, T0 = 8, B0 = 367;
const FONT = '"Liberation Sans", Arial, Helvetica, sans-serif';

export default function App() {
  const x = d3.scaleLinear().domain([0, 1400]).range([L0, R0]);
  const y = d3.scaleLog().domain([Math.pow(10, -2.235), Math.pow(10, 4.581)]).range([B0, T0]);
  const line = d3.line<Pt>().x(d => x(d[0])).y(d => y(Math.pow(10, d[1]))).curve(d3.curveMonotoneX);

  const legX = 472, legY = 267, legW = 315, legH = 87;
  const rows = [292, 318, 344];

  return (
    <svg width={W} height={H} style={{ position: 'absolute', left: 0, top: 0, background: '#fff' }} fontFamily={FONT}>
      <rect x={0} y={0} width={W} height={H} fill="#fff" />
      <defs>
        <clipPath id="plotClip"><rect x={L0} y={T0} width={R0 - L0} height={B0 - T0} /></clipPath>
      </defs>
      {xTicks.filter(t => t > 0 && t < 1400).map(t => (
        <line key={'gx' + t} x1={x(t)} x2={x(t)} y1={T0} y2={B0} stroke="#c4c4c4" strokeWidth={1} strokeDasharray="1 2" />
      ))}
      {yTickExps.map(e => (
        <line key={'gy' + e} x1={L0} x2={R0} y1={y(Math.pow(10, e))} y2={y(Math.pow(10, e))} stroke="#c4c4c4" strokeWidth={1} strokeDasharray="1 2" />
      ))}
      <g clipPath="url(#plotClip)" fill="none">
        {grayCurves.map((c, i) => <path key={'g' + i} d={line(c) || ''} stroke="#bdbdbd" strokeWidth={2.6} strokeLinejoin="round" />)}
        {blackCurves.map((c, i) => <path key={'b' + i} d={line(c) || ''} stroke="#000" strokeWidth={1.45} strokeLinejoin="round" />)}
        <path d={line(withoutMass) || ''} stroke="#000" strokeWidth={4} strokeDasharray="3 1.5" />
      </g>
      <rect x={L0} y={T0} width={R0 - L0} height={B0 - T0} fill="none" stroke="#222" strokeWidth={1.3} />
      {xTicks.map(t => (
        <g key={'tx' + t}>
          <line x1={x(t)} x2={x(t)} y1={B0} y2={B0 - 5} stroke="#222" strokeWidth={1.2} />
          <line x1={x(t)} x2={x(t)} y1={T0} y2={T0 + 5} stroke="#222" strokeWidth={1.2} />
          <text x={x(t)} y={395} fontSize={21} textAnchor="middle" fill="#000">{t}</text>
        </g>
      ))}
      {yTickExps.map(e => {
        const yy = y(Math.pow(10, e));
        return (
          <g key={'ty' + e}>
            <line x1={L0} x2={L0 + 5} y1={yy} y2={yy} stroke="#222" strokeWidth={1.2} />
            <line x1={R0} x2={R0 - 5} y1={yy} y2={yy} stroke="#222" strokeWidth={1.2} />
            <text x={50} y={yy + 7.5} fontSize={20} fill="#000">10<tspan dy={-11.5} fontSize={13}>{e}</tspan></text>
          </g>
        );
      })}
      <text x={(L0 + R0) / 2} y={419} fontSize={21} textAnchor="middle" fill="#000">{'Frequency\u00a0\u00a0[Hz]'}</text>
      <text transform={`translate(31,${(T0 + B0) / 2}) rotate(-90)`} fontSize={21} textAnchor="middle" fill="#000">
        {'Magnitude\u00a0\u00a0['}
        <tspan fontStyle="italic">ms</tspan>
        <tspan fontStyle="italic" fontSize={14} dy={-8}>-2</tspan>
        <tspan dy={8}>/</tspan>
        <tspan fontStyle="italic">N</tspan>
        <tspan>]</tspan>
      </text>
      <rect x={legX} y={legY} width={legW} height={legH} fill="#fff" stroke="#222" strokeWidth={1.2} />
      <line x1={487} x2={564} y1={rows[0] - 7.5} y2={rows[0] - 7.5} stroke="#bdbdbd" strokeWidth={1.3} />
      <line x1={487} x2={564} y1={rows[1] - 7.5} y2={rows[1] - 7.5} stroke="#000" strokeWidth={1.2} />
      <line x1={487} x2={564} y1={rows[2] - 7.5} y2={rows[2] - 7.5} stroke="#000" strokeWidth={4} strokeDasharray="3 1.5" />
      {legendLabels.map((l, i) => (
        <text key={l} x={572} y={rows[i]} fontSize={21} fill="#000">{l}</text>
      ))}
    </svg>
  );
}
